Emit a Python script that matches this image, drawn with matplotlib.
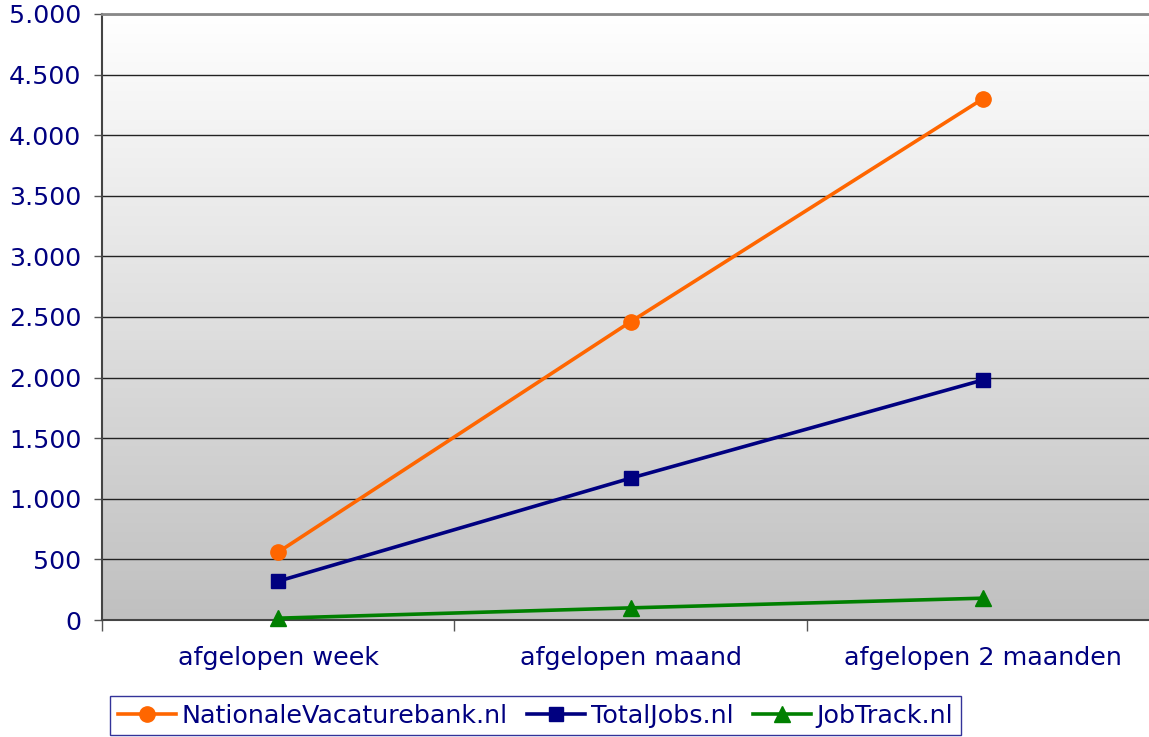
import numpy as np
import matplotlib
matplotlib.use('Agg')
import matplotlib.pyplot as plt
from matplotlib.ticker import FuncFormatter

categories = ['afgelopen week', 'afgelopen maand', 'afgelopen 2 maanden']
nvb = [560, 2460, 4300]
totaljobs = [320, 1170, 1980]
jobtrack = [15, 100, 180]
labels = ['NationaleVacaturebank.nl', 'TotalJobs.nl', 'JobTrack.nl']

navy = '#000080'
fs = 18.3
fig = plt.figure(figsize=(11.49, 7.37), dpi=100)
ax = fig.add_axes([102/1149, 117/737, 1057/1149, 606/737])

# gradient background: white at the top to grey at the bottom
grad = np.linspace(0, 1, 256).reshape(-1, 1)
cmap = matplotlib.colors.LinearSegmentedColormap.from_list('bg', ['#c0c0c0', '#ffffff'])
ax.imshow(grad, extent=[-0.5, 2.5, 0, 5000], origin='lower', aspect='auto',
          cmap=cmap, zorder=0)

x = np.arange(len(categories))
ax.plot(x, nvb, color='#ff6600', lw=2.6, marker='o', ms=11, label=labels[0], zorder=5)
ax.plot(x, totaljobs, color=navy, lw=2.6, marker='s', ms=10.5, label=labels[1], zorder=5)
ax.plot(x, jobtrack, color='#008000', lw=2.6, marker='^', ms=12, label=labels[2], zorder=5,
        clip_on=False)

ax.set_xlim(-0.5, 2.5)
ax.set_ylim(0, 5000)
ax.set_yticks(np.arange(0, 5001, 500))
ax.yaxis.set_major_formatter(FuncFormatter(lambda v, p: f'{int(v):,}'.replace(',', '.')))
ax.set_xticks([-0.5, 0.5, 1.5, 2.5])
ax.set_xticklabels([])
ax.set_xticks(x, minor=True)
ax.set_xticklabels(categories, minor=True)
ax.tick_params(axis='x', which='minor', length=0, pad=19, labelsize=fs, labelcolor=navy)
ax.tick_params(axis='x', which='major', length=8, color='#555555', width=1)
ax.tick_params(axis='y', length=6, color='#555555', width=1, labelsize=fs, labelcolor=navy, pad=9)

ax.grid(axis='y', color='#222222', lw=1, zorder=1)
ax.set_axisbelow(True)
for s in ['left', 'bottom']:
    ax.spines[s].set_color('#444444')
    ax.spines[s].set_linewidth(1.5)
ax.spines['top'].set_color('#888888')
ax.spines['top'].set_linewidth(2)
ax.spines['right'].set_visible(False)

leg = fig.legend(loc='upper left', bbox_to_anchor=(110/1149, 1 - 696/737), ncol=3,
                 fontsize=fs, frameon=True, fancybox=False, edgecolor=navy,
                 handlelength=2.28, handletextpad=0.24, columnspacing=0.75,
                 borderpad=0.3, borderaxespad=0)
leg.get_frame().set_linewidth(1)
for t in leg.get_texts():
    t.set_color(navy)

fig.savefig('out.png', dpi=100)
